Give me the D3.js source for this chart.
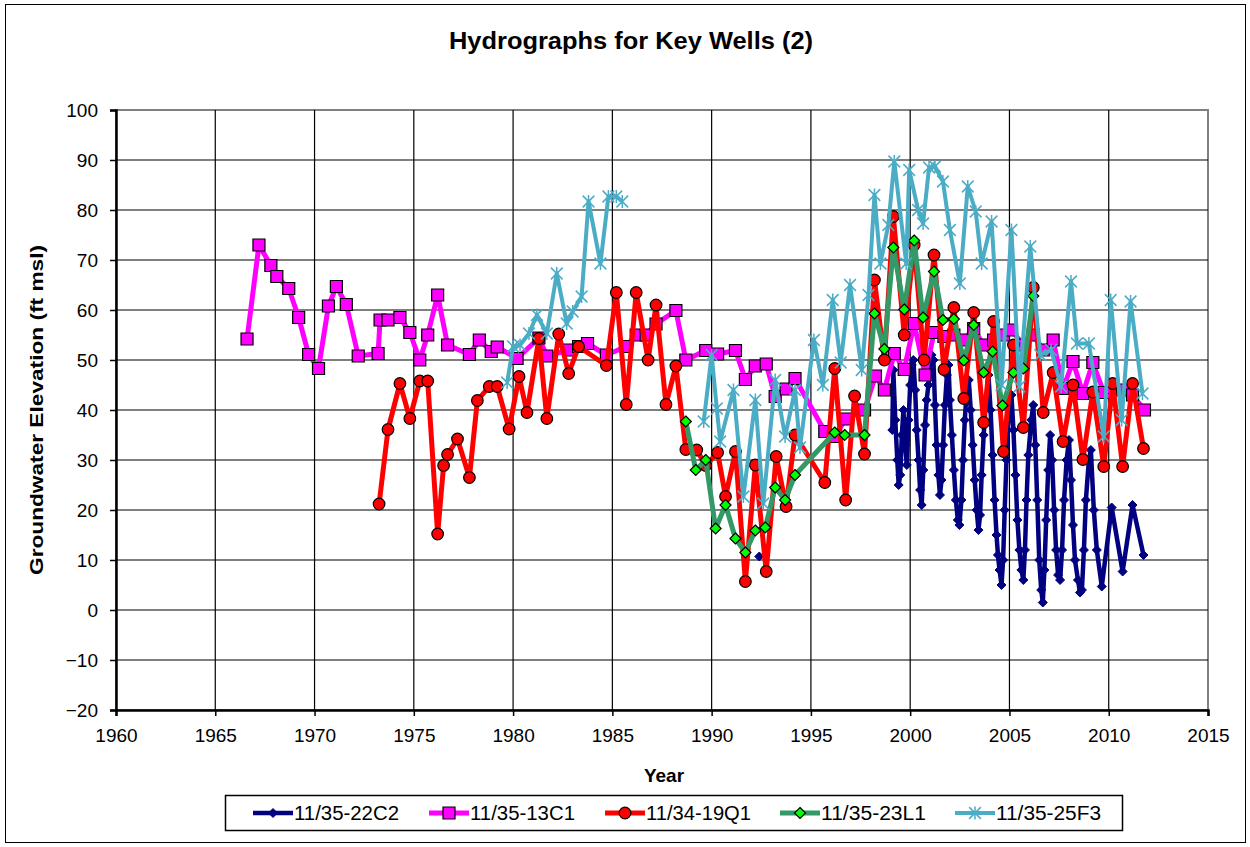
<!DOCTYPE html>
<html>
<head>
<meta charset="utf-8">
<script src="https://cdn.jsdelivr.net/npm/d3@7"></script>
<style>
  body { margin: 0; background: #fff; }
  svg text { font-family: Arial, "Liberation Sans", sans-serif; fill: #000; }
</style>
</head>
<body>
<svg id="chart" width="1250" height="847"></svg>
<script>
// ---- data ----
var yearTicks = [1960, 1965, 1970, 1975, 1980, 1985, 1990, 1995, 2000, 2005, 2010, 2015];
var valueTicks = [-20, -10, 0, 10, 20, 30, 40, 50, 60, 70, 80, 90, 100];

// 11/35-22C2 (null = gap in the record)
var c22Years = [1992.4, null,
  1999.10, 1999.15, 1999.25, 1999.35, 1999.42, 1999.50, 1999.58, 1999.66, 1999.75, 1999.83, 1999.92,
  2000.00, 2000.08, 2000.16, 2000.25, 2000.33, 2000.42, 2000.50, 2000.58, 2000.66, 2000.75, 2000.83, 2000.92,
  2001.00, 2001.08, 2001.17, 2001.25, 2001.33, 2001.42, 2001.50, 2001.58, 2001.66, 2001.75, 2001.85, 2001.93,
  2002.00, 2002.10, 2002.20, 2002.30, 2002.40, 2002.48, 2002.58, 2002.66, 2002.75, 2002.85, 2002.95,
  2003.05, 2003.15, 2003.25, 2003.35, 2003.44, 2003.52, 2003.60, 2003.70, 2003.80, 2003.94,
  2004.05, 2004.15, 2004.25, 2004.35, 2004.42, 2004.50, 2004.60, 2004.68, 2004.76, 2004.85, 2004.95,
  2005.10, 2005.20, 2005.30, 2005.40, 2005.50, 2005.60, 2005.70, 2005.78, 2005.86, 2005.95,
  2006.10, 2006.20, 2006.30, 2006.40, 2006.50, 2006.60, 2006.68, 2006.76, 2006.85, 2006.95,
  2007.05, 2007.15, 2007.25, 2007.35, 2007.45, 2007.55, 2007.65, 2007.75, 2007.88,
  2008.00, 2008.10, 2008.20, 2008.30, 2008.45, 2008.55, 2008.65, 2008.75, 2008.85,
  2009.00, 2009.10, 2009.25, 2009.40, 2009.65, 2010.15, 2010.70, 2011.20, 2011.75];
var c22Values = [10.7, null,
  36, 48, 38, 30, 25, 27, 35, 40, 33, 29, 38,
  45, 49, 50, 44, 36, 30, 24, 21, 28, 37, 42, 45,
  48, 51, 50, 41, 33, 27, 23, 26, 33, 41, 47, 49,
  42, 35, 28, 22, 18, 17, 22, 30, 38, 44, 46,
  40, 33, 26, 20, 16, 19, 27, 35, 41, 47,
  40, 31, 22, 15, 11, 8, 5, 10, 20, 30, 38,
  43, 36, 27, 18, 12, 8, 6, 12, 22, 31,
  38, 41, 33, 22, 10, 4, 1.5, 8, 18, 28,
  35, 30, 20, 12, 7, 6, 12, 22, 30,
  34, 26, 17, 10, 6, 3.5, 4, 12, 22,
  30, 32, 20, 12, 4.7, 20.5, 7.7, 21, 11];

// 11/35-13C1
var c13Years = [1966.6, 1967.2, 1967.8, 1968.1, 1968.7, 1969.2, 1969.7, 1970.2, 1970.7, 1971.1, 1971.6, 1972.2,
  1973.2, 1973.3, 1973.7, 1974.3, 1974.8, 1975.3, 1975.7, 1976.2, 1976.7, 1977.8, 1978.3, 1978.9, 1979.2,
  1980.2, 1981.3, 1981.7, 1982.8, 1983.3, 1983.75, 1984.7, 1985.7, 1986.2, 1986.7, 1987.2, 1988.2, 1988.7,
  1989.7, 1990.3, 1991.2, 1991.7, 1992.2, 1992.75, 1993.2, 1993.75, 1994.2, 1995.7, 1996.2, 1996.75,
  1997.7, 1998.25, 1998.7, 1999.2, 1999.7, 2000.2, 2000.75, 2001.2, 2001.7, 2002.2, 2002.7, 2003.2,
  2003.7, 2004.2, 2004.7, 2005.1, 2005.7, 2006.2, 2006.7, 2007.2, 2007.7, 2008.2, 2008.7, 2009.2,
  2009.75, 2010.2, 2010.7, 2011.2, 2011.8];
var c13Values = [54.2, 73, 68.9, 66.7, 64.3, 58.5, 51.1, 48.3, 60.8, 64.7, 61.1, 50.8,
  51.3, 58, 58, 58.5, 55.5, 50, 55, 63, 53, 51.1, 54, 51.7, 52.6,
  50.3, 54.4, 50.8, 52, 52.7, 53.3, 51, 52.7, 55, 55, 57.2, 59.9, 50,
  51.9, 51.2, 51.9, 46.1, 48.8, 49.2, 42.7, 44.2, 46.3, 35.7, 34.7, 38.2,
  40, 46.8, 44, 51.3, 48.1, 57.3, 47, 55.5, 54.7, 55, 54, 56.3,
  53, 54, 55, 56, 53, 55, 52, 54, 44.3, 49.7, 43.3, 49.5,
  43.5, 44.5, 44, 43, 40];

// 11/34-19Q1
var q19Years = [1973.25, 1973.7, 1974.3, 1974.8, 1975.3, 1975.7, 1976.2, 1976.5, 1976.7, 1977.2, 1977.8,
  1978.2, 1978.8, 1979.2, 1979.8, 1980.3, 1980.7, 1981.3, 1981.7, 1982.3, 1982.8, 1983.3, 1984.7,
  1985.2, 1985.7, 1986.2, 1986.8, 1987.2, 1987.7, 1988.2, 1988.7, 1989.25, 1989.7, 1990.3, 1990.7,
  1991.2, 1991.7, 1992.2, 1992.75, 1993.25, 1993.75, 1994.2, 1995.7, 1996.2, 1996.75, 1997.2, 1997.7,
  1998.2, 1998.7, 1999.15, 1999.7, 2000.2, 2000.7, 2001.2, 2001.7, 2002.2, 2002.7, 2003.2, 2003.7,
  2004.2, 2004.7, 2005.2, 2005.7, 2006.2, 2006.7, 2007.2, 2007.7, 2008.2, 2008.7, 2009.2, 2009.75,
  2010.2, 2010.7, 2011.2, 2011.75];
var q19Values = [21.2, 36.1, 45.3, 38.3, 45.8, 45.8, 15.2, 28.9, 31.1, 34.2, 26.5,
  41.9, 44.7, 44.7, 36.2, 46.7, 39.5, 54.3, 38.3, 55.2, 47.3, 52.7, 48.9,
  63.5, 41.1, 63.5, 50, 61, 41.1, 48.8, 32.1, 32, 28.9, 31.5, 22.7,
  31.7, 5.7, 29, 7.7, 30.7, 20.7, 35, 25.5, 48.3, 22, 42.8, 31.2,
  66, 50, 78.7, 55, 73, 50, 71, 48.1, 60.5, 42.3, 59.5, 37.5,
  57.7, 31.7, 53, 36.5, 64.5, 39.5, 47.5, 33.7, 45, 30.1, 43.6, 28.7,
  45.3, 28.7, 45.3, 32.3];

// 11/35-23L1
var l23Years = [1988.7, 1989.2, 1989.7, 1990.2, 1990.7, 1991.2, 1991.7, 1992.2, 1992.7, 1993.2, 1993.7,
  1994.2, 1996.2, 1996.7, 1997.7, 1998.2, 1998.7, 1999.15, 1999.7, 2000.2, 2000.65, 2001.2, 2001.65,
  2002.2, 2002.7, 2003.2, 2003.7, 2004.15, 2004.65, 2005.2, 2005.7, 2006.2];
var l23Values = [37.7, 28, 30, 16.3, 21, 14.3, 11.5, 15.9, 16.5, 24.5, 22,
  27, 35.5, 35, 35, 59.3, 52.2, 72.5, 60.1, 73.9, 58.5, 67.7, 58,
  58.2, 49.9, 57, 47.5, 51.7, 40.9, 47.5, 48.3, 62.8];

// 11/35-25F3
var f25Years = [1979.7, 1980.0, 1980.35, 1980.8, 1981.2, 1981.7, 1982.2, 1982.7, 1983.0, 1983.45, 1983.8,
  1984.4, 1984.8, 1985.2, 1985.5, null,
  1989.6, 1990.0, 1990.26, 1990.43, 1991.1, 1991.6, 1992.2, 1992.6, 1993.2, 1993.7, 1994.2, 1994.45,
  1995.15, 1995.6, 1996.1, 1996.5, 1996.97, 1997.56, 1997.9, 1998.2, 1998.5, 1998.9, 1999.2, 1999.8,
  1999.95, 2000.4, 2000.65, 2000.95, 2001.25, 2001.65, 2002.0, 2002.5, 2002.9, 2003.3, 2003.6, 2004.1,
  2004.6, 2005.1, 2005.5, 2006.05, 2006.55, 2007.1, 2007.6, 2008.1, 2008.4, 2009.0, 2009.75, 2010.1,
  2010.65, 2011.1, 2011.7];
var f25Values = [45.5, 52.7, 53, 55.3, 59, 55.3, 67.3, 57.3, 59.7, 62.7, 81.7,
  69.3, 82.7, 82.7, 81.7, null,
  37.7, 51, 40.3, 33.7, 44, 22.7, 42, 21.3, 46, 34.7, 44, 32.5,
  54, 45, 62, 49.5, 65, 48, 63, 83, 69.3, 77, 89.7, 69.3,
  88, 80, 77.3, 88.5, 88.7, 85.7, 76, 65.3, 84.7, 79.7, 69.3, 77.7,
  45, 76, 44.7, 72.7, 51, 52, 44.7, 65.7, 53.3, 53.3, 34.7, 62,
  38, 61.7, 43.3];

var seriesNames = ['11/35-22C2', '11/35-13C1', '11/34-19Q1', '11/35-23L1', '11/35-25F3'];

// ---- layout ----
var svg = d3.select('#chart');
var plot = {l: 116, r: 1208, t: 110, b: 710};

var xScale = d3.scaleLinear().domain([1960, 2015]).range([plot.l, plot.r]);
var yScale = d3.scaleLinear().domain([-20, 100]).range([plot.b, plot.t]);

// outer chart border
svg.append('rect')
    .attr('x', 5.5).attr('y', 4.5)
    .attr('width', 1240).attr('height', 838)
    .attr('fill', '#fff').attr('stroke', '#000').attr('stroke-width', 1);

// title
svg.append('text')
    .attr('x', 631).attr('y', 49)
    .attr('text-anchor', 'middle')
    .attr('font-size', 23).attr('font-weight', 'bold')
    .attr('textLength', 364).attr('lengthAdjust', 'spacingAndGlyphs')
    .text('Hydrographs for Key Wells (2)');

// plot area frame (grey) and grid
svg.append('rect')
    .attr('x', plot.l).attr('y', plot.t)
    .attr('width', plot.r - plot.l).attr('height', plot.b - plot.t)
    .attr('fill', '#fff').attr('stroke', '#808080').attr('stroke-width', 2);

var grid = svg.append('g');
grid.selectAll('.hg').data(valueTicks.slice(1, -1)).enter().append('line')
    .attr('x1', plot.l).attr('x2', plot.r)
    .attr('y1', function(d){ return yScale(d); })
    .attr('y2', function(d){ return yScale(d); })
    .attr('stroke', '#000').attr('stroke-width', 1.2);
grid.selectAll('.vg').data(yearTicks.slice(1, -1)).enter().append('line')
    .attr('y1', plot.t).attr('y2', plot.b)
    .attr('x1', function(d){ return xScale(d); })
    .attr('x2', function(d){ return xScale(d); })
    .attr('stroke', '#000').attr('stroke-width', 1.2);

// axes
var yAxis = d3.axisLeft(yScale).tickValues(valueTicks).tickSize(6).tickPadding(12);
var xAxis = d3.axisBottom(xScale).tickValues(yearTicks).tickSize(6).tickPadding(10).tickFormat(d3.format('d'));

var yG = svg.append('g').attr('transform', 'translate(' + plot.l + ',0)').call(yAxis);
var xG = svg.append('g').attr('transform', 'translate(0,' + plot.b + ')').call(xAxis);
[yG, xG].forEach(function(g){
    g.select('.domain').attr('stroke', '#000').attr('stroke-width', 2.5);
    g.selectAll('.tick line').attr('stroke', '#000').attr('stroke-width', 1.5);
    g.selectAll('.tick text').attr('font-size', 19).attr('font-family', 'Arial, "Liberation Sans", sans-serif').attr('fill', '#000');
});
xG.selectAll('.tick text').attr('dy', '0.85em');

// axis titles
svg.append('text')
    .attr('x', 664).attr('y', 782)
    .attr('text-anchor', 'middle')
    .attr('font-size', 19).attr('font-weight', 'bold')
    .text('Year');
svg.append('text')
    .attr('transform', 'translate(43,410)rotate(-90)')
    .attr('text-anchor', 'middle')
    .attr('font-size', 19).attr('font-weight', 'bold')
    .attr('textLength', 330).attr('lengthAdjust', 'spacingAndGlyphs')
    .text('Groundwater Elevation (ft msl)');

// ---- series ----
function zip(xs, ys) {
    return xs.map(function(x, i){ return {x: x, y: ys[i]}; });
}

function diamond(r) { return 'M0,' + (-r) + 'L' + r + ',0L0,' + r + 'L' + (-r) + ',0Z'; }
function square(r) { return 'M' + (-r) + ',' + (-r) + 'h' + 2*r + 'v' + 2*r + 'h' + (-2*r) + 'Z'; }
function circle(r) { return 'M' + r + ',0A' + r + ',' + r + ' 0 1,1 ' + (-r) + ',0A' + r + ',' + r + ' 0 1,1 ' + r + ',0Z'; }
function star(r) {
    var k = r * 0.9;
    return 'M' + (-k) + ',' + (-k) + 'L' + k + ',' + k + 'M' + (-k) + ',' + k + 'L' + k + ',' + (-k) +
        'M0,' + (-r) + 'L0,' + r;
}

var series = [
    {name: seriesNames[0], data: zip(c22Years, c22Values), color: '#000080', width: 4.5,
        marker: diamond(4.5), fill: '#000080', mstroke: '#000080', msw: 1},
    {name: seriesNames[1], data: zip(c13Years, c13Values), color: '#FF00FF', width: 5,
        marker: square(6), fill: '#FF00FF', mstroke: '#000', msw: 1.2},
    {name: seriesNames[2], data: zip(q19Years, q19Values), color: '#FF0000', width: 5,
        marker: circle(5.8), fill: '#FF0000', mstroke: '#000', msw: 1.2},
    {name: seriesNames[3], data: zip(l23Years, l23Values), color: '#339966', width: 5,
        marker: diamond(5.5), fill: '#00FF00', mstroke: '#000', msw: 1.2},
    {name: seriesNames[4], data: zip(f25Years, f25Values), color: '#4BACC6', width: 4,
        marker: star(6.5), fill: 'none', mstroke: '#4BACC6', msw: 1.5}
];

var line = d3.line()
    .defined(function(d){ return d.x !== null && d.y !== null; })
    .x(function(d){ return xScale(d.x); })
    .y(function(d){ return yScale(d.y); });

series.forEach(function(s){
    var g = svg.append('g');
    g.append('path')
        .attr('d', line(s.data))
        .attr('fill', 'none')
        .attr('stroke', s.color)
        .attr('stroke-width', s.width)
        .attr('stroke-linejoin', 'round');
    g.selectAll('.m').data(s.data.filter(function(d){ return d.x !== null; }))
        .enter().append('path')
        .attr('transform', function(d){ return 'translate(' + xScale(d.x) + ',' + yScale(d.y) + ')'; })
        .attr('d', s.marker)
        .attr('fill', s.fill)
        .attr('stroke', s.mstroke)
        .attr('stroke-width', s.msw);
});

// ---- legend ----
var legend = svg.append('g');
legend.append('rect')
    .attr('x', 225.5).attr('y', 795.5)
    .attr('width', 897).attr('height', 35)
    .attr('fill', '#fff').attr('stroke', '#000').attr('stroke-width', 1.5);

var legendX = [253, 429, 605, 780, 955];
series.forEach(function(s, i){
    var x0 = legendX[i];
    var g = legend.append('g').attr('transform', 'translate(' + x0 + ',813)');
    g.append('line')
        .attr('x1', 0).attr('x2', 40).attr('y1', 0).attr('y2', 0)
        .attr('stroke', s.color).attr('stroke-width', s.width);
    g.append('path')
        .attr('transform', 'translate(20,0)')
        .attr('d', s.marker)
        .attr('fill', s.fill).attr('stroke', s.mstroke).attr('stroke-width', s.msw);
    g.append('text')
        .attr('x', 41).attr('y', 7)
        .attr('font-size', 20)
        .attr('textLength', 105).attr('lengthAdjust', 'spacingAndGlyphs')
        .text(s.name);
});
</script>
</body>
</html>
